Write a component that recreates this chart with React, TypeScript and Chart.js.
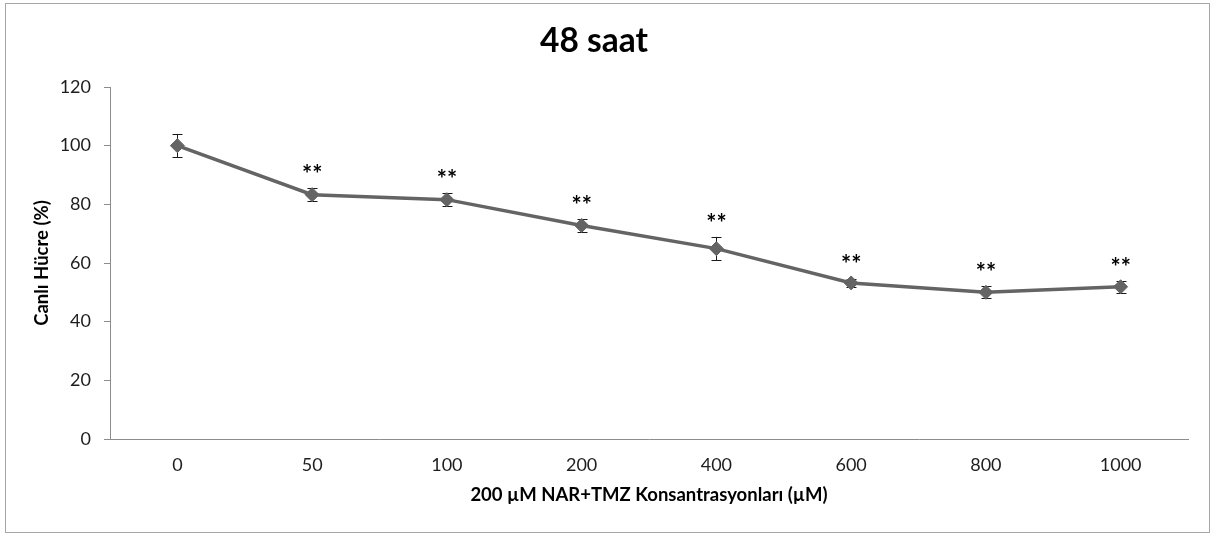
import React, { useEffect, useRef } from "react";
import { Chart, registerables } from "chart.js";

Chart.register(...registerables);

const categories = ["0", "50", "100", "200", "400", "600", "800", "1000"];
const viability = [100, 83.3, 81.6, 72.8, 64.9, 53.2, 50.0, 51.9];
const errors = [4.0, 2.3, 2.2, 2.2, 4.0, 1.5, 2.0, 2.0];
const significance = ["", "**", "**", "**", "**", "**", "**", "**"];
const yTicks = [0, 20, 40, 60, 80, 100, 120];

const TITLE = "48 saat";
const Y_TITLE = "Canlı Hücre (%)";
const X_TITLE = "200 µM NAR+TMZ Konsantrasyonları (µM)";

const FONT = "Lato";
const AXIS_COLOR = "#8c8c8c";
const LINE_COLOR = "#646464";
const TEXT_COLOR = "#1e1e1e";

const frameAndErrorPlugin = {
  id: "frameAndError",
  beforeDraw(chart: any) {
    const ctx = chart.ctx;
    ctx.save();
    ctx.fillStyle = "#ffffff";
    ctx.fillRect(0, 0, chart.width, chart.height);
    ctx.strokeStyle = "#a6a6a6";
    ctx.lineWidth = 1;
    ctx.strokeRect(5.5, 3.5, 1204, 529);
    ctx.restore();
  },
  beforeDatasetsDraw(chart: any) {
    const ctx = chart.ctx;
    const xs = chart.scales.x;
    const ys = chart.scales.y;
    ctx.save();
    ctx.strokeStyle = "#1a1a1a";
    ctx.lineWidth = 1;
    viability.forEach((v, i) => {
      const x = Math.round(xs.getPixelForValue(i)) + 0.5;
      const yt = ys.getPixelForValue(v + errors[i]);
      const yb = ys.getPixelForValue(v - errors[i]);
      ctx.beginPath();
      ctx.moveTo(x, yt);
      ctx.lineTo(x, yb);
      ctx.moveTo(x - 5, Math.round(yt) + 0.5);
      ctx.lineTo(x + 5, Math.round(yt) + 0.5);
      ctx.moveTo(x - 5, Math.round(yb) + 0.5);
      ctx.lineTo(x + 5, Math.round(yb) + 0.5);
      ctx.stroke();
    });
    ctx.restore();
  },
  afterDatasetsDraw(chart: any) {
    const ctx = chart.ctx;
    const xs = chart.scales.x;
    const ys = chart.scales.y;
    ctx.save();
    ctx.fillStyle = "#000000";
    ctx.font = `bold 24px ${FONT}`;
    ctx.textAlign = "center";
    ctx.textBaseline = "middle";
    viability.forEach((v, i) => {
      if (!significance[i]) return;
      const x = xs.getPixelForValue(i);
      const yt = ys.getPixelForValue(v + errors[i]);
      ctx.fillText(significance[i], x, yt - 13);
    });
    ctx.restore();
  },
};

export default function App() {
  const canvasRef = useRef<HTMLCanvasElement | null>(null);

  useEffect(() => {
    document.body.style.margin = "0";
    const canvas = canvasRef.current;
    if (!canvas) return;
    const chart = new Chart(canvas, {
      type: "line",
      data: {
        labels: categories,
        datasets: [
          {
            data: viability,
            borderColor: LINE_COLOR,
            backgroundColor: LINE_COLOR,
            borderWidth: 3.5,
            pointStyle: "rectRot",
            pointRadius: 7,
            pointHoverRadius: 7,
            pointBackgroundColor: LINE_COLOR,
            pointBorderColor: LINE_COLOR,
            pointBorderWidth: 1,
            tension: 0,
            fill: false,
          },
        ],
      },
      options: {
        animation: false,
        responsive: false,
        maintainAspectRatio: false,
        events: [],
        layout: { padding: { left: 0, right: 24, top: 0, bottom: 0 } },
        plugins: {
          legend: { display: false },
          tooltip: { enabled: false },
          title: {
            display: true,
            text: TITLE,
            color: "#000000",
            font: { family: FONT, size: 33.5, weight: "bold" },
            padding: { top: 21, bottom: 25.8 },
          },
        },
        scales: {
          x: {
            type: "category",
            offset: true,
            grid: { display: false, drawTicks: false },
            border: { display: true, color: AXIS_COLOR, width: 1 },
            ticks: {
              color: TEXT_COLOR,
              font: { family: FONT, size: 18 },
              padding: 15,
              maxRotation: 0,
              autoSkip: false,
            },
            title: {
              display: true,
              text: X_TITLE,
              color: "#000000",
              font: { family: FONT, size: 18.5, weight: "bold" },
              padding: { top: 0, bottom: 28 },
            },
            afterFit(scale: any) {
              scale.height = 95;
            },
          },
          y: {
            min: 0,
            max: 120,
            afterBuildTicks(scale: any) {
              scale.ticks = yTicks.map((v) => ({ value: v }));
            },
            grid: {
              display: true,
              drawOnChartArea: false,
              drawTicks: true,
              tickLength: 6,
              color: AXIS_COLOR,
            },
            border: { display: true, color: AXIS_COLOR, width: 1 },
            ticks: {
              color: TEXT_COLOR,
              font: { family: FONT, size: 18 },
              padding: 13,
            },
            title: {
              display: true,
              text: Y_TITLE,
              color: "#000000",
              font: { family: FONT, size: 18.5, weight: "bold" },
              padding: { top: 31, bottom: 0 },
            },
            afterFit(scale: any) {
              scale.width = 110;
            },
          },
        },
      },
      plugins: [frameAndErrorPlugin],
    });
    return () => chart.destroy();
  }, []);

  return (
    <div style={{ width: 1212, height: 534 }}>
      <canvas ref={canvasRef} width={1212} height={534} style={{ display: "block" }} />
    </div>
  );
}
